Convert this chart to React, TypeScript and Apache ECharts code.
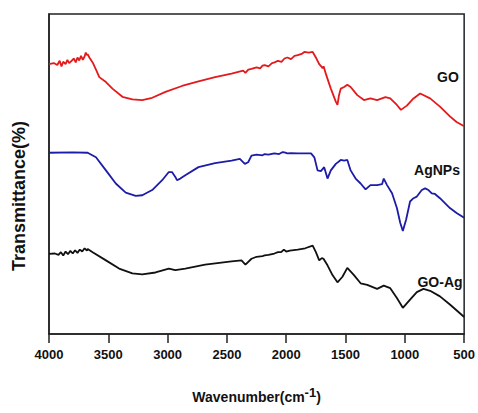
import React, { useEffect, useRef } from "react";
import * as echarts from "echarts";

const goWave = [4000,3960,3930,3910,3895,3880,3860,3845,3830,3810,3790,3775,3760,3745,3730,3715,3700,3690,3680,3674,3660,3632,3600,3576,3520,3465,3381,3297,3214,3130,3018,2879,2740,2600,2461,2363,2344,2320,2293,2250,2220,2200,2182,2150,2120,2098,2070,2040,2015,1990,1960,1930,1903,1870,1847,1810,1777,1750,1722,1705,1694,1685,1666,1624,1582,1568,1555,1540,1512,1485,1457,1401,1345,1290,1234,1164,1123,1067,1033,983,927,871,787,704,620,564,500];
const goVal = [825,828,822,835,818,832,825,838,828,835,842,830,845,836,850,838,848,860,852,855,845,830,805,785,770,750,725,717,715,722,740,758,772,785,796,805,798,808,810,815,812,820,822,818,828,830,835,832,842,845,840,850,852,856,862,860,862,845,825,818,812,818,795,750,710,700,730,750,755,762,755,730,715,720,715,724,720,700,685,698,720,735,720,695,665,648,635];

const agWave = [4000,3800,3674,3604,3520,3437,3353,3269,3214,3130,3046,2990,2963,2935,2921,2893,2851,2740,2600,2461,2391,2349,2321,2293,2250,2200,2182,2150,2100,2060,2030,2015,1990,1960,1903,1791,1763,1736,1708,1680,1652,1624,1582,1540,1512,1485,1457,1415,1373,1331,1290,1234,1192,1178,1150,1108,1067,1039,1017,989,956,927,899,857,829,801,773,746,704,620,564,500];
const agVal = [554,555,554,540,500,460,432,422,424,440,470,495,495,480,470,475,485,510,522,530,535,520,525,545,548,546,550,548,552,550,556,555,552,553,552,552,540,500,498,510,475,500,520,532,530,532,500,475,460,442,455,455,458,475,455,430,385,340,315,350,405,415,420,440,445,440,430,428,415,385,370,355];

const goAgWave = [4000,3950,3920,3900,3880,3860,3840,3820,3800,3780,3760,3740,3720,3700,3680,3674,3632,3520,3409,3297,3214,3102,2990,2935,2851,2684,2461,2377,2344,2293,2250,2200,2182,2150,2100,2070,2043,2020,2000,1970,1903,1840,1777,1750,1722,1700,1686,1652,1610,1568,1526,1485,1429,1373,1317,1234,1178,1123,1067,1017,956,899,843,787,704,620,500];
const goAgVal = [245,246,242,250,240,252,244,254,246,256,248,258,252,262,255,260,250,225,200,185,182,188,200,195,200,212,222,225,212,230,236,238,240,242,246,250,250,258,252,255,258,262,270,250,225,232,230,210,180,158,175,202,180,155,150,138,148,140,110,80,105,128,138,132,115,90,52];

const xTicks = [4000, 3500, 3000, 2500, 2000, 1500, 1000, 500];
const seriesNames = ["GO", "AgNPs", "GO-Ag"];
const seriesColors = ["#e31a1c", "#1c1ca8", "#111111"];

const zip = (w: number[], v: number[]) => w.map((x, i) => [x, v[i]]);

export default function App() {
  const ref = useRef<HTMLDivElement>(null);
  useEffect(() => {
    if (!ref.current) return;
    const chart = echarts.init(ref.current, null, { renderer: "svg" });
    const font = "'Liberation Sans', Arial, sans-serif";
    chart.setOption({
      animation: false,
      backgroundColor: "#ffffff",
      grid: {
        left: 49,
        right: 10,
        top: 14,
        bottom: 73,
        show: true,
        borderColor: "#222",
        borderWidth: 1.5,
      },
      xAxis: {
        type: "value",
        min: 500,
        max: 4000,
        interval: 500,
        inverse: true,
        axisLine: { show: true, lineStyle: { color: "#222", width: 1.5 } },
        axisTick: { show: true, inside: false, length: 9, lineStyle: { color: "#222", width: 1.5 } },
        splitLine: { show: false },
        axisLabel: {
          margin: 14,
          color: "#111",
          fontWeight: "bold",
          fontSize: 13,
          fontFamily: font,
          formatter: (v: number) => (xTicks.includes(v) ? String(v) : ""),
        },
        name: "{a|Wavenumber(cm}{s|-1}{a|)}",
        nameLocation: "middle",
        nameGap: 52,
        nameTextStyle: {
          rich: {
            a: { fontSize: 14, fontWeight: "bold", fontFamily: font, color: "#111", verticalAlign: "bottom", lineHeight: 18 },
            s: { fontSize: 13, fontWeight: "bold", fontFamily: font, color: "#111", verticalAlign: "top", lineHeight: 12, padding: [0, 0, 9, 0] },
          },
        },
      },
      yAxis: {
        type: "value",
        min: 0,
        max: 978,
        axisLine: { show: true, lineStyle: { color: "#222", width: 1.5 } },
        axisTick: { show: false },
        axisLabel: { show: false },
        splitLine: { show: false },
      },
      series: [
        { name: seriesNames[0], type: "line", data: zip(goWave, goVal), showSymbol: false, lineStyle: { color: seriesColors[0], width: 1.8 } },
        { name: seriesNames[1], type: "line", data: zip(agWave, agVal), showSymbol: false, lineStyle: { color: seriesColors[1], width: 1.8 } },
        { name: seriesNames[2], type: "line", data: zip(goAgWave, goAgVal), showSymbol: false, lineStyle: { color: seriesColors[2], width: 1.8 } },
      ],
      graphic: [
        { type: "text", x: 19, y: 196, rotation: Math.PI / 2, style: { text: "Transmittance(%)", font: `bold 18px ${font}`, fill: "#111", textAlign: "center", textVerticalAlign: "middle" } },
        { type: "text", x: 448, y: 77, style: { text: seriesNames[0], font: `bold 14px ${font}`, fill: "#111", textAlign: "center", textVerticalAlign: "middle" } },
        { type: "text", x: 437, y: 170, style: { text: seriesNames[1], font: `bold 14px ${font}`, fill: "#111", textAlign: "center", textVerticalAlign: "middle" } },
        { type: "text", x: 440, y: 282, style: { text: seriesNames[2], font: `bold 14px ${font}`, fill: "#111", textAlign: "center", textVerticalAlign: "middle" } },
      ],
    });
    return () => chart.dispose();
  }, []);
  return <div ref={ref} style={{ width: 478, height: 413, position: "absolute", left: 0, top: 0 }} />;
}
